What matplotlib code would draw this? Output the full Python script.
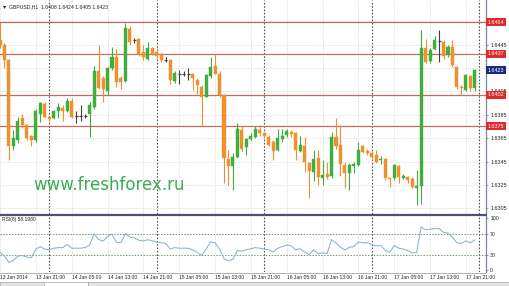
import matplotlib
matplotlib.use('Agg')
import matplotlib.pyplot as plt
import matplotlib.transforms as mtransforms
from matplotlib.patches import Rectangle
from matplotlib.lines import Line2D
import numpy as np

# ---------------- data ----------------
opens = [1.6449,1.6445,1.6432,1.6358,1.6363,1.6382,1.6376,1.6367,1.6363,1.6386,
         1.6394,1.6383,1.6382,1.6388,1.6391,1.6388,1.6397,1.6384,1.6384,1.6384,
         1.6386,1.6392,1.6422,1.6416,1.6405,1.6425,1.6434,1.6416,1.6414,1.6458,
         1.6449,1.6450,1.6439,1.6433,1.6442,1.6439,1.6437,1.6432,1.6432,1.6414,
         1.6420,1.6420,1.6420,1.6420,1.6415,1.6409,1.6400,1.6418,1.6427,1.6420,
         1.6402,1.6347,1.6341,1.6349,1.6372,1.6357,1.6364,1.6366,1.6372,1.6369,
         1.6366,1.6362,1.6355,1.6364,1.6368,1.63705,1.6369,1.6354,1.6358,1.6344,
         1.6336,1.6348,1.6331,1.6334,1.6333,1.6366,1.6359,1.6342,1.6335,1.6341,
         1.6342,1.6358,1.6354,1.6352,1.6351,1.6346,1.6347,1.6331,1.6331,1.6341,
         1.6331,1.6332,1.6330,1.6322,1.6324,1.6442,1.6431,1.6441,1.6448,1.6447,
         1.6436,1.6443,1.6426,1.6409,1.6406,1.6418,1.6408]
highs = [1.6464,1.6446,1.6433,1.6372,1.6383,1.6386,1.6377,1.6368,1.6390,1.6396,
         1.6396,1.6384,1.6389,1.6395,1.6393,1.6399,1.6399,1.6388,1.6393,1.6386,
         1.6396,1.6427,1.6445,1.6418,1.6426,1.6443,1.6441,1.6418,1.6463,1.6461,
         1.6451,1.6451,1.6445,1.6447,1.6443,1.6442,1.6438,1.6434,1.6433,1.6422,
         1.6423,1.6422,1.6425,1.6421,1.6416,1.6410,1.6420,1.6434,1.6437,1.6422,
         1.6403,1.6355,1.6352,1.6378,1.6375,1.6365,1.6369,1.6375,1.6376,1.6370,
         1.6368,1.6363,1.6373,1.6373,1.6373,1.6372,1.6370,1.6367,1.6366,1.6345,
         1.6355,1.6355,1.6346,1.6345,1.6370,1.6382,1.6376,1.6345,1.6344,1.6345,
         1.6362,1.6359,1.6356,1.6356,1.6355,1.6350,1.6348,1.6332,1.6343,1.6342,
         1.6334,1.6333,1.6332,1.6338,1.6457,1.6450,1.6442,1.6452,1.6457,1.6449,
         1.6445,1.6449,1.6427,1.6410,1.6420,1.6419,1.6424]
lows = [1.6442,1.6425,1.6346,1.6355,1.6361,1.6374,1.6363,1.6358,1.6362,1.6379,
        1.6382,1.6379,1.6381,1.6382,1.6380,1.6387,1.6382,1.6378,1.6380,1.6382,
        1.6366,1.6390,1.6407,1.6396,1.6402,1.6423,1.6409,1.6407,1.6413,1.6445,
        1.6446,1.6435,1.6432,1.6432,1.6436,1.6433,1.6430,1.6430,1.6411,1.6412,
        1.6411,1.6418,1.6415,1.6406,1.6403,1.6375,1.6400,1.6416,1.6420,1.6400,
        1.6327,1.6325,1.6321,1.6348,1.6354,1.6351,1.6363,1.6365,1.6367,1.6365,
        1.6358,1.6346,1.6354,1.6362,1.6366,1.6366,1.6346,1.6353,1.6336,1.6314,
        1.6328,1.6325,1.6325,1.6330,1.6331,1.6356,1.6333,1.6322,1.6321,1.6335,
        1.6341,1.6352,1.6351,1.6346,1.6344,1.6343,1.6329,1.6323,1.6329,1.6327,
        1.6330,1.6327,1.6322,1.6308,1.6309,1.6429,1.6429,1.6440,1.6430,1.6433,
        1.6434,1.6426,1.6407,1.6402,1.6405,1.6405,1.6405]
closes = [1.6445,1.6432,1.6358,1.6365,1.6380,1.6376,1.6365,1.6363,1.6388,1.6395,
          1.6383,1.6381,1.6388,1.6392,1.6388,1.6397,1.6383,1.6384,1.6384,1.6384,
          1.6393,1.6422,1.6408,1.6407,1.6425,1.6434,1.6413,1.6413,1.6459,1.6447,
          1.6449,1.6437,1.6434,1.6442,1.6437,1.6435,1.6432,1.6432,1.6415,1.6421,
          1.6420,1.6420,1.6420,1.6416,1.6410,1.6400,1.6419,1.6426,1.6420,1.6402,
          1.6348,1.6341,1.6349,1.6373,1.6356,1.6364,1.6367,1.6373,1.6369,1.6367,
          1.6359,1.6354,1.6365,1.6367,1.6371,1.63685,1.6355,1.6359,1.6345,1.6337,
          1.6347,1.6332,1.63335,1.6332,1.6366,1.6358,1.6343,1.6335,1.6342,1.6343,
          1.6355,1.6353,1.63526,1.6349,1.6345,1.6347,1.6331,1.6330,1.6342,1.63315,
          1.6333,1.6329,1.63235,1.6324,1.6442,1.6430,1.6440,1.6449,1.6448,1.6435,
          1.6443,1.64275,1.6409,1.64075,1.6419,1.6408,1.6423]
rsi = [34.3,26.9,14.6,18.9,26.9,28.2,25.1,23.8,40.5,45.4,
       40.5,39.2,42.3,43.5,43.5,49.7,42.3,42.3,42.3,43.5,
       48.5,70.0,59.5,55.8,65.1,70.0,53.4,53.4,71.2,63.8,
       62.6,57.7,56.5,58.9,56.5,54.6,52.8,51.5,40.5,43.5,
       42.3,42.3,42.3,39.2,34.3,28.2,40.5,54.6,52.8,40.5,
       22.0,17.7,20.8,38.0,36.2,39.2,41.1,43.5,42.3,40.5,
       39.2,34.9,42.3,45.4,48.5,46.6,39.2,41.1,34.9,30.0,
       39.2,31.8,33.1,31.8,58.9,52.8,44.2,39.2,44.2,45.4,
       54.6,52.8,52.8,49.7,46.6,47.8,38.0,34.3,47.2,42.3,
       40.5,38.0,33.1,34.3,83.5,78.0,79.2,80.5,80.5,73.1,
       71.8,63.8,52.8,51.5,56.5,52.8,58.2]

xtick_labels = ["13 Jan 2014", "13 Jan 21:00", "14 Jan 05:00", "14 Jan 13:00",
                "14 Jan 21:00", "15 Jan 05:00", "15 Jan 13:00", "15 Jan 21:00",
                "16 Jan 05:00", "16 Jan 13:00", "16 Jan 21:00", "17 Jan 05:00",
                "17 Jan 13:00", "17 Jan 21:00"]
xtick_step = 8
day_separators = [11, 35, 59, 83, 107]
grid_prices = [1.6305, 1.6325, 1.6345, 1.6365, 1.6385, 1.6405, 1.6425, 1.6445, 1.6465]
price_ticks = [1.6305, 1.6325, 1.6345, 1.6365, 1.6385, 1.6405, 1.6425, 1.6445]
level_lines = [1.6464, 1.6437, 1.6402, 1.6375]
current_price = 1.6423
rsi_levels = [30, 70]
rsi_ticks = [0, 30, 70, 100]
title = "GBPUSD,H1  1.6408 1.6424 1.6405 1.6423"
rsi_title = "RSI(8) 58.1980"
watermark = "www.freshforex.ru"

# ---------------- style ----------------
W, H = 510, 286
BULL = '#3fae3f'
BEAR = '#f0902c'
DOJI = '#404040'
GRID = '#dadada'
SEP = '#555555'
LEVEL = '#c46a62'
TXT = '#222222'
FONT = ['Liberation Sans', 'DejaVu Sans']

fig = plt.figure(figsize=(W / 100, H / 100), dpi=100)
fig.patch.set_facecolor('white')


def px_axes(x0, y0, x1, y1):
    return fig.add_axes([x0 / W, 1 - y1 / H, (x1 - x0) / W, (y1 - y0) / H])


ax = px_axes(0, 0, 486, 214)
axr = px_axes(0, 216, 486, 272)

n = len(opens)
x = np.arange(n)
o = np.array(opens); h = np.array(highs); l = np.array(lows); c = np.array(closes)

xmax = 486 / 4.48
for a in (ax, axr):
    a.set_xlim(0, xmax)
    a.set_facecolor('white')
    for s in ('top', 'left', 'bottom'):
        a.spines[s].set_visible(False)
    a.spines['right'].set_color('#7a869c')
    a.spines['right'].set_linewidth(0.9)
    a.tick_params(axis='x', which='both', length=0, labelbottom=False)

ax.set_ylim(1.630015, 1.648306)
axr.set_ylim(-3.9, 104.85)

# grid
xt = np.arange(0, n, xtick_step)
for a in (ax, axr):
    for xv in xt:
        a.axvline(xv, color=GRID, lw=0.6, ls=(0, (1.5, 1.5)), zorder=0)
    for xv in day_separators:
        a.axvline(xv, color=SEP, lw=0.8, ls=(0, (1.5, 1.5)), zorder=0.5)
for pv in grid_prices:
    ax.axhline(pv, color=GRID, lw=0.6, ls=(0, (1.5, 1.5)), zorder=0)

# watermark
ax.text(33 / 486, 1 - 190 / 214, watermark, transform=ax.transAxes, fontsize=12,
        color='#3dab55', family='DejaVu Sans', va='baseline', ha='left', zorder=1)

# level lines
for lv in level_lines:
    ax.axhline(lv, color=LEVEL, lw=0.9, zorder=1.5)

# candles
bw = 0.67
up = c > o
dn = c < o
eq = c == o
wick_col = np.where(up, BULL, np.where(dn, BEAR, DOJI))
ax.vlines(x, l, h, colors=wick_col, lw=0.8, zorder=2)
ax.bar(x[up], (c - o)[up], bottom=o[up], width=bw, color=BULL, edgecolor=BULL, lw=0.3, zorder=3)
ax.bar(x[dn], (o - c)[dn], bottom=c[dn], width=bw, color=BEAR, edgecolor=BEAR, lw=0.3, zorder=3)
ax.hlines(c[eq], x[eq] - bw / 2, x[eq] + bw / 2, colors=DOJI, lw=0.9, zorder=3)

# price axis
ax.yaxis.tick_right()
ax.set_yticks(price_ticks)
ax.set_yticklabels([f"{p:.4f}" for p in price_ticks], fontsize=3.9, color=TXT, family=FONT)
ax.tick_params(axis='y', length=1.5, width=0.6, pad=1.5, color='#7a869c')

ytr = ax.get_yaxis_transform()
for lv in level_lines:
    ax.text(1.004, lv, f"{lv:.4f}", transform=ytr, fontsize=3.9, color='white', family=FONT,
            ha='left', va='center', clip_on=False, zorder=6,
            bbox=dict(boxstyle='square,pad=0.28', fc='#de2a2a', ec='none'))
ax.text(1.004, current_price, f"{current_price:.4f}", transform=ytr, fontsize=3.9, color='white',
        family=FONT, ha='left', va='center', clip_on=False, zorder=6,
        bbox=dict(boxstyle='square,pad=0.28', fc='#1c2a82', ec='none'))

# title
fig.text(3 / W, 1 - 7 / H, "\u25BE", fontsize=4.5, color=TXT, family=['DejaVu Sans'], va='center')
fig.text(9 / W, 1 - 7 / H, title, fontsize=3.7, color=TXT, family=FONT, va='center')

# RSI panel
axr.plot(x, rsi, color='#86b4c8', lw=0.75, zorder=3)
for lv in rsi_levels:
    axr.axhline(lv, color='#6f9a6f', lw=0.7, ls=(0, (1.5, 1.5)), zorder=1)
axr.yaxis.tick_right()
axr.set_yticks(rsi_ticks)
axr.set_yticklabels([str(t) for t in rsi_ticks], fontsize=3.7, color=TXT, family=FONT)
axr.tick_params(axis='y', length=1.5, width=0.6, pad=1.5, color='#7a869c')
axr.text(2 / 486, 1 - 4 / 56, rsi_title, transform=axr.transAxes, fontsize=3.6, color=TXT,
         family=FONT, va='center', ha='left')

# x labels
xlab_tr = mtransforms.blended_transform_factory(axr.transData, fig.transFigure)
for xv, lab in zip(xt, xtick_labels):
    fig.text(xv, 1 - 277.5 / H, lab, transform=xlab_tr, fontsize=3.6, color=TXT, family=FONT,
             ha='left', va='center')

# separator between panels
fig.add_artist(Line2D([0, 486 / W], [1 - 215 / H, 1 - 215 / H], color='#4c4f86', lw=1.6))
# bottom axis line
fig.add_artist(Line2D([0, 486 / W], [1 - 272.5 / H, 1 - 272.5 / H], color='#9aa3b5', lw=0.6))

# bottom tab strip
for (x0, x1, fc) in [(0, 44, '#e2e2e2'), (44, 88, '#ffffff'), (88, 510, '#e2e2e2')]:
    fig.add_artist(Rectangle((x0 / W, 0), (x1 - x0) / W, 4.5 / H, transform=fig.transFigure,
                             fc=fc, ec='#a8a8a8', lw=0.5))

fig.savefig('out.png', dpi=100, facecolor='white')
